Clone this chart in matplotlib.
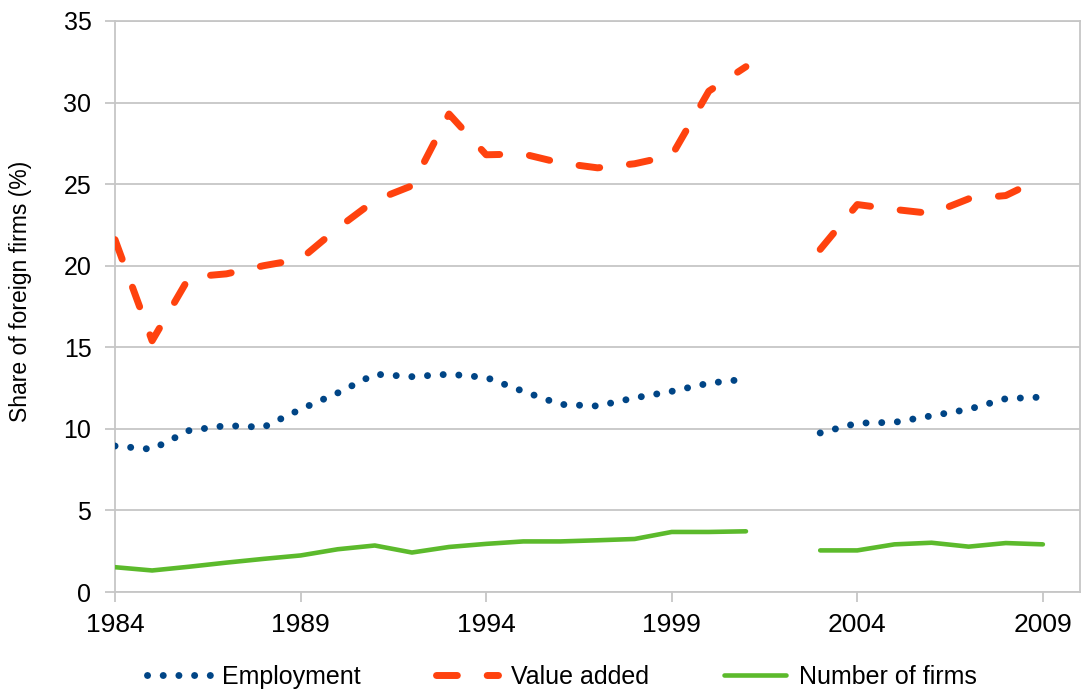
import numpy as np
import matplotlib.pyplot as plt

plt.rcParams['font.family'] = ['Liberation Sans', 'DejaVu Sans']

years = list(range(1984, 2010))
nan = np.nan

# 2002 is missing in all series
employment = [8.95, 8.75, 9.9, 10.2, 10.1, 11.2, 12.2, 13.35, 13.2, 13.35, 13.15,
              12.3, 11.5, 11.4, 11.9, 12.3, 12.8, 13.05, nan,
              9.75, 10.35, 10.4, 10.8, 11.2, 11.85, 11.95]
value_added = [21.6, 15.4, 19.3, 19.5, 20.0, 20.4, 22.3, 24.0, 24.9, 29.3, 26.8,
               26.85, 26.3, 26.0, 26.25, 26.75, 30.7, 32.2, nan,
               21.0, 23.75, 23.45, 23.2, 24.1, 24.3, 25.4]
n_firms = [1.52, 1.32, 1.55, 1.8, 2.03, 2.24, 2.62, 2.85, 2.42, 2.76, 2.95,
           3.1, 3.1, 3.17, 3.25, 3.68, 3.68, 3.72, nan,
           2.55, 2.55, 2.92, 3.02, 2.78, 3.0, 2.92]

grid_col = '#c6c6c6'

fig = plt.figure(figsize=(10.81, 6.93), dpi=100)
ax = fig.add_axes([115 / 1081, 1 - 592 / 693, 965 / 1081, 571 / 693])

ax.plot(years, employment, color='#004586', lw=5, dashes=(0.01, 2.25),
        dash_capstyle='round', label='Employment', zorder=3)
ax.plot(years, value_added, color='#ff420e', lw=5, dashes=(3.0, 4.3),
        dash_capstyle='round', label='Value added', zorder=3)
ax.plot(years, n_firms, color='#5cba2c', lw=3.3, solid_capstyle='round',
        solid_joinstyle='round', label='Number of firms', zorder=3)

ax.set_xlim(1984, 2010)
ax.set_ylim(0, 35)
ax.set_xticks([1984, 1989, 1994, 1999, 2004, 2009])
ax.set_yticks(range(0, 36, 5))
ax.grid(axis='y', color=grid_col, lw=1.3)
ax.set_axisbelow(True)
for sp in ax.spines.values():
    sp.set_color(grid_col)
    sp.set_linewidth(1.3)
ax.tick_params(axis='both', direction='out', length=7, width=1.3, color=grid_col,
               labelcolor='black')
ax.tick_params(axis='x', pad=8, labelsize=19)
ax.tick_params(axis='y', pad=10, labelsize=18)

ax.set_ylabel('Share of foreign firms (%)', fontsize=16.5)
ax.yaxis.set_label_coords(-0.086, 0.526)

fig.legend(loc='center', bbox_to_anchor=(0.52, 1 - 677 / 693), ncol=3, frameon=False,
           fontsize=18, handlelength=2.5, columnspacing=3.0, handletextpad=0.5)

fig.savefig('out.png', dpi=100)
